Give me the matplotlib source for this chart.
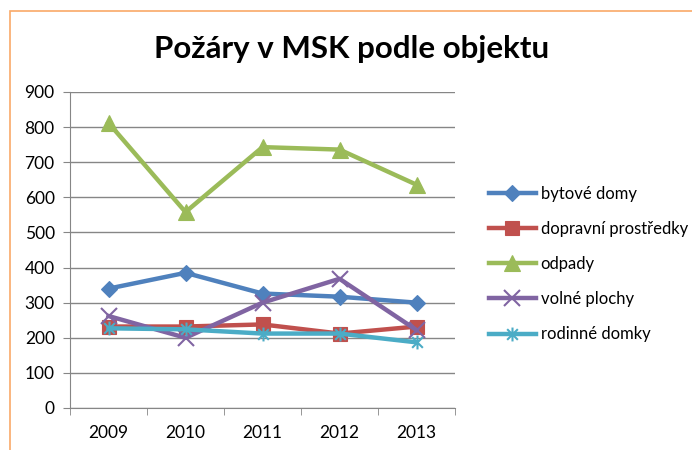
import matplotlib
matplotlib.use("Agg")
import matplotlib.pyplot as plt
from matplotlib.path import Path
from matplotlib.patches import Rectangle

years = ["2009", "2010", "2011", "2012", "2013"]
bytove_domy = [340, 385, 326, 317, 300]
dopravni_prostredky = [232, 232, 238, 212, 232]
odpady = [812, 558, 743, 736, 636]
volne_plochy = [262, 200, 300, 368, 222]
rodinne_domky = [227, 224, 212, 212, 187]

series = [
    ("bytové domy", bytove_domy, "#4F81BD", "D", 8),
    ("dopravní prostředky", dopravni_prostredky, "#C0504D", "s", 10),
    ("odpady", odpady, "#9BBB59", "^", 11),
    ("volné plochy", volne_plochy, "#8064A2", "x", 11),
    ("rodinné domky", rodinne_domky, "#4BACC6", "star", 10),
]

# excel-style asterisk: an x with a vertical bar through it
star = Path(
    [(-1, -1), (1, 1), (-1, 1), (1, -1), (0, -1.3), (0, 1.3)],
    [Path.MOVETO, Path.LINETO, Path.MOVETO, Path.LINETO, Path.MOVETO, Path.LINETO],
)

plt.rcParams["font.family"] = ["Lato", "DejaVu Sans"]

fig = plt.figure(figsize=(6.92, 4.5), dpi=100)
fig.patches.append(Rectangle((10 / 692, -0.05), 1.1, (450 - 11) / 450 + 0.05,
                             transform=fig.transFigure, fill=False,
                             edgecolor="#F9A968", linewidth=1.2))

ax = fig.add_axes([70 / 692, 42 / 450, 385 / 692, 316 / 450])
x = list(range(len(years)))
for label, values, color, marker, size in series:
    m = star if marker == "star" else marker
    ax.plot(x, values, color=color, linewidth=3.2, marker=m, markersize=size,
            markeredgewidth=1.5 if marker in ("x", "star") else 0.8,
            markeredgecolor=color, markerfacecolor=color, label=label)

ax.set_ylim(0, 900)
ax.set_yticks(range(0, 901, 100))
ax.set_xlim(-0.5, len(years) - 0.5)
ax.set_xticks(x)
ax.set_xticklabels(years)
ax.set_xticks([i - 0.5 for i in range(len(years) + 1)], minor=True)
ax.tick_params(axis="x", which="major", length=0, pad=12, labelsize=12.5)
ax.tick_params(axis="x", which="minor", length=5, color="#868686")
ax.tick_params(axis="y", length=5, color="#868686", labelsize=12.5, pad=6)
ax.grid(axis="y", color="#868686", linewidth=1)
ax.set_axisbelow(True)
for side in ("top", "right"):
    ax.spines[side].set_visible(False)
for side in ("left", "bottom"):
    ax.spines[side].set_color("#868686")

fig.text(352 / 692, 1 - 49 / 450, "Požáry v MSK podle objektu", ha="center",
         va="center", fontsize=22.5, fontweight="bold")

ax.legend(loc="center left", bbox_to_anchor=(474 / 692, 1 - 264 / 450),
          bbox_transform=fig.transFigure, frameon=False, fontsize=12,
          handlelength=2.8, labelspacing=1.15, handletextpad=0.3)

fig.savefig("out.png", dpi=100)
